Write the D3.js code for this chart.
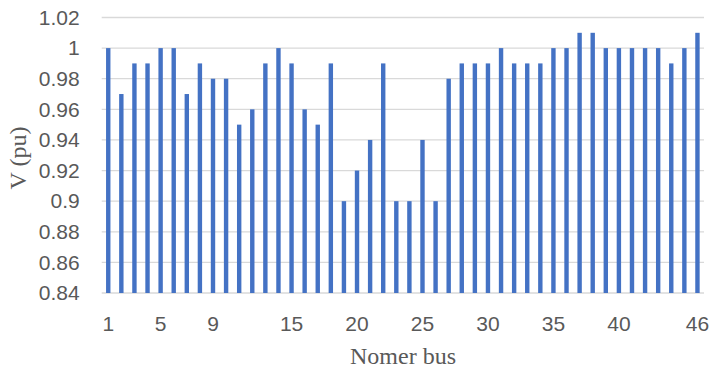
<!DOCTYPE html>
<html>
<head>
<meta charset="utf-8">
<script src="https://cdn.jsdelivr.net/npm/d3@7"></script>
<style>
  html, body { margin: 0; padding: 0; background: #fff; }
  svg { display: block; }
</style>
</head>
<body>
<svg id="chart" width="711" height="370"></svg>
<script>
// Bus numbers and per-unit voltage magnitude at each bus
const buses = d3.range(1, 47);
const voltages = [
  1.00, 0.97, 0.99, 0.99, 1.00, 1.00, 0.97, 0.99, 0.98, 0.98,
  0.95, 0.96, 0.99, 1.00, 0.99, 0.96, 0.95, 0.99, 0.90, 0.92,
  0.94, 0.99, 0.90, 0.90, 0.94, 0.90, 0.98, 0.99, 0.99, 0.99,
  1.00, 0.99, 0.99, 0.99, 1.00, 1.00, 1.01, 1.01, 1.00, 1.00,
  1.00, 1.00, 1.00, 0.99, 1.00, 1.01
];
const yTicks = [0.84, 0.86, 0.88, 0.90, 0.92, 0.94, 0.96, 0.98, 1.00, 1.02];
const yTickLabels = ["0.84", "0.86", "0.88", "0.9", "0.92", "0.94", "0.96", "0.98", "1", "1.02"];
const xTickLabels = [1, 5, 9, 15, 20, 25, 30, 35, 40, 46];

const svg = d3.select("#chart");
const plot = { left: 101.7, right: 704, top: 17.5, bottom: 293 };

const x = d3.scaleBand()
  .domain(buses)
  .range([plot.left, plot.right])
  .paddingInner(0.664)
  .paddingOuter(0.332);

const y = d3.scaleLinear()
  .domain([0.84, 1.02])
  .range([plot.bottom, plot.top]);

// horizontal gridlines
svg.append("g")
  .selectAll("line")
  .data(yTicks)
  .join("line")
  .attr("x1", plot.left)
  .attr("x2", plot.right)
  .attr("y1", d => y(d))
  .attr("y2", d => y(d))
  .attr("stroke", "#d9d9d9")
  .attr("stroke-width", 1.3);

// bars
svg.append("g")
  .selectAll("rect")
  .data(buses)
  .join("rect")
  .attr("x", d => x(d))
  .attr("width", x.bandwidth())
  .attr("y", (d, i) => y(voltages[i]))
  .attr("height", (d, i) => y(0.84) - y(voltages[i]))
  .attr("fill", "#4472c4");

// y axis labels
const yAxis = d3.axisLeft(y)
  .tickValues(yTicks)
  .tickFormat((d, i) => yTickLabels[i])
  .tickSize(0)
  .tickPadding(22);
svg.append("g")
  .attr("transform", `translate(${plot.left},0)`)
  .call(yAxis)
  .call(g => g.select(".domain").remove())
  .selectAll("text")
  .attr("font-family", "Liberation Sans, Arial, sans-serif")
  .attr("font-size", 21)
  .attr("fill", "#595959");

// x axis labels
const xAxis = d3.axisBottom(x)
  .tickValues(xTickLabels)
  .tickSize(0)
  .tickPadding(23);
svg.append("g")
  .attr("transform", `translate(0,${plot.bottom})`)
  .call(xAxis)
  .call(g => g.select(".domain").remove())
  .selectAll("text")
  .attr("font-family", "Liberation Sans, Arial, sans-serif")
  .attr("font-size", 21)
  .attr("fill", "#595959");

// axis titles
svg.append("text")
  .attr("transform", `translate(26,158) rotate(-90)`)
  .attr("text-anchor", "middle")
  .attr("font-family", "Liberation Serif, Times New Roman, serif")
  .attr("font-size", 24)
  .attr("fill", "#595959")
  .text("V (pu)");

svg.append("text")
  .attr("x", 403)
  .attr("y", 364)
  .attr("text-anchor", "middle")
  .attr("font-family", "Liberation Serif, Times New Roman, serif")
  .attr("font-size", 24)
  .attr("fill", "#595959")
  .text("Nomer bus");
</script>
</body>
</html>
